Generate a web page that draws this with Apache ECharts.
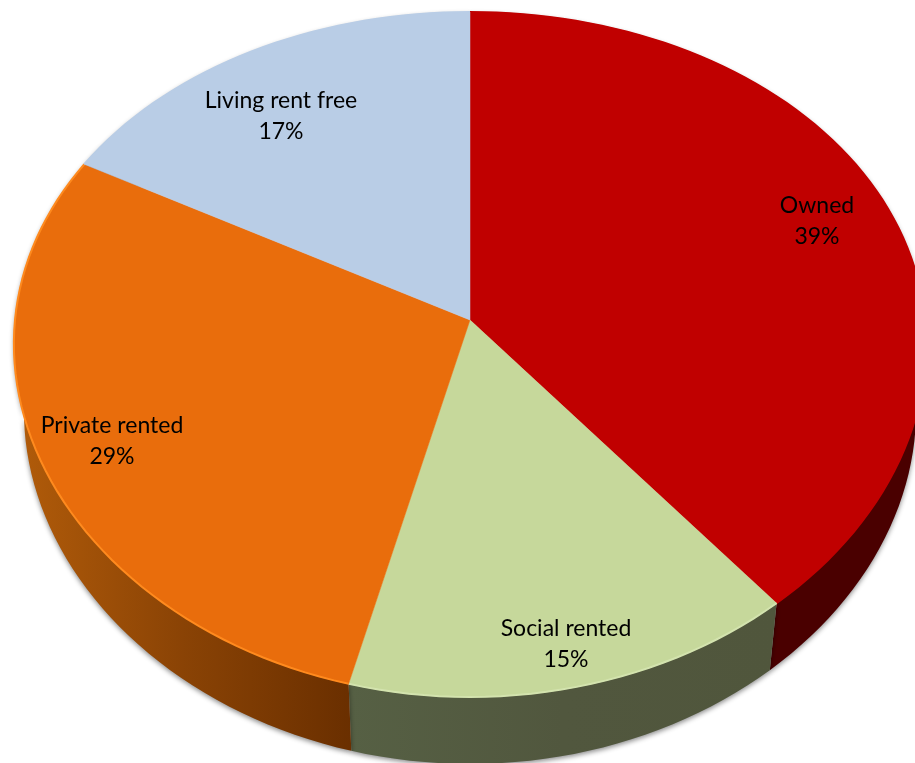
<!DOCTYPE html>
<html><head><meta charset="utf-8">
<style>html,body{margin:0;padding:0;background:#fff}#c{width:915px;height:763px}</style>
<script src="https://cdn.jsdelivr.net/npm/echarts@6/dist/echarts.min.js"></script>
</head><body><div id="c"></div>
<script>
var categories = ['Owned', 'Social rented', 'Private rented', 'Living rent free'];
var shares = [39, 15, 29, 17];

var topColors = ['#c00000', '#c6d89b', '#e96d0c', '#b9cde6'];
var rimColors = ['#c00000', '#d3e3ae', '#ff8a1e', '#b9cde6'];
var wallStops = [['#4a0000', '#4a0000', '#4a0000'], ['#566044', '#51573e', '#50563c'], ['#b25c0a', '#8a4305', '#6a2f00'], ['#6e8199', '#6e8199', '#6e8199']];
var labelSpots = [[817, 221], [566, 644], [112, 441], [281, 116]];

// Perspective view of a flat disc, fitted to the picture
var view = { cx: 470, cy: 320, ax: 455, ay: 339, k: 0.1007, kx: 0.07, depth: 67, squeeze: 0.978 };
var total = shares.reduce(function (a, b) { return a + b; }, 0);

function rim(share) {
  var t = share / total * Math.PI * 2;
  var X = Math.sin(t), Y = Math.cos(t);
  return [view.cx + view.ax * X / (1 + view.kx * Y), view.cy - view.ay * Y / (1 + view.k * Y)];
}
function arc(from, to) {
  var pts = [], n = Math.max(2, Math.round((to - from) * 2));
  for (var i = 0; i <= n; i++) pts.push(rim(from + (to - from) * i / n));
  return pts;
}
function dropped(p) {
  return [view.cx + (p[0] - view.cx) * view.squeeze, p[1] + view.depth];
}
function startOf(idx) {
  var s = 0;
  for (var i = 0; i < idx; i++) s += shares[i];
  return s;
}

function renderWall(params, api) {
  var i = params.dataIndex, from = startOf(i), to = from + api.value(0);
  var top = arc(from, to);
  var pts = top.concat(top.map(dropped).reverse());
  return {
    type: 'polygon',
    shape: { points: pts },
    style: {
      fill: new echarts.graphic.LinearGradient(0, 0, 1, 0, [
        { offset: 0, color: wallStops[i][0] },
        { offset: 0.5, color: wallStops[i][1] },
        { offset: 1, color: wallStops[i][2] }
      ]),
      shadowBlur: 5, shadowColor: 'rgba(0,0,0,0.45)', shadowOffsetY: 2
    }
  };
}
function renderTop(params, api) {
  var i = params.dataIndex, from = startOf(i), to = from + api.value(0);
  var a = arc(from, to);
  return {
    type: 'group',
    children: [
      { type: 'polygon', shape: { points: [[view.cx, view.cy]].concat(a) },
        style: { fill: topColors[i], stroke: topColors[i], lineWidth: 0.5 } },
      { type: 'polyline', shape: { points: a },
        style: { fill: 'none', stroke: rimColors[i], lineWidth: 2 } }
    ]
  };
}
function renderLabel(params, api) {
  var i = params.dataIndex;
  return {
    type: 'text',
    style: {
      x: labelSpots[i][0], y: labelSpots[i][1],
      text: categories[i] + '\n' + api.value(0) + '%',
      font: '23px Lato', fill: '#000', align: 'center', verticalAlign: 'middle',
      lineHeight: 31
    }
  };
}

var chart = echarts.init(document.getElementById('c'), null, { renderer: 'canvas' });
var rows = shares.map(function (v) { return [v]; });
chart.setOption({
  animation: false,
  backgroundColor: '#fff',
  series: [
    { type: 'custom', coordinateSystem: 'none', z: 1, data: rows, renderItem: renderWall, silent: true },
    { type: 'custom', coordinateSystem: 'none', z: 2, data: rows, renderItem: renderTop, silent: true },
    { type: 'custom', coordinateSystem: 'none', z: 3, data: rows, renderItem: renderLabel, silent: true }
  ]
});
</script></body></html>
